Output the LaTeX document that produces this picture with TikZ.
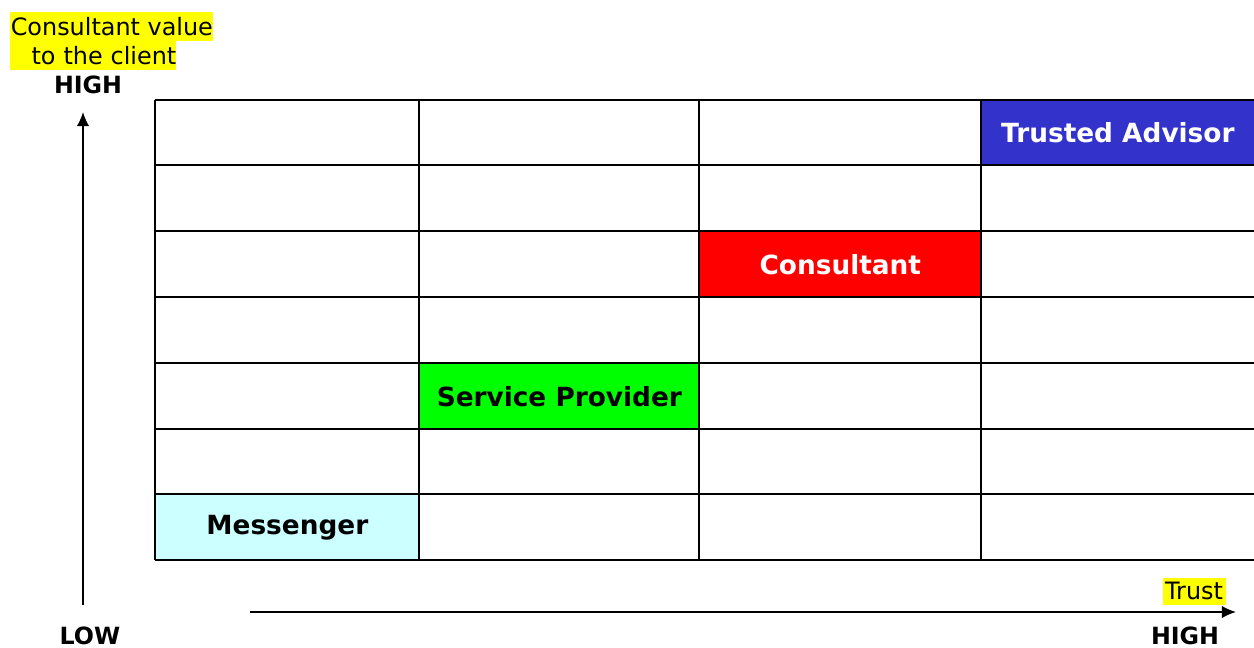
\documentclass[tikz,border=0pt]{standalone}
\usepackage{fontspec}
\setmainfont{DejaVu Sans}
\usepackage{tikz}
\usetikzlibrary{positioning, arrows.meta}

\definecolor{advisorblue}{HTML}{3333CC}
\definecolor{hilite}{HTML}{FFFF00}
\definecolor{msgcyan}{HTML}{CCFFFF}

\begin{document}
\begin{tikzpicture}[x=0.02cm, y=-0.02cm,
	cell/.style={rectangle, draw=none, inner sep=0pt, anchor=north west, font=\bfseries\fontsize{15}{17}\selectfont},
	axislabel/.style={inner sep=0pt, font=\bfseries\fontsize{13.5}{15}\selectfont},
	marker/.style={fill=hilite, inner sep=0pt, minimum height=29*0.02cm, font=\fontsize{13.6}{16}\selectfont},
	axis/.style={-{Latex[length=8pt, width=7pt]}, line width=0.8pt}]

	\useasboundingbox (0,0) rectangle (1254,648);

	\def \xa {155}
	\def \xb {1254}
	\def \ya {100}
	\def \yb {560}

	% highlighted cells
	\node[cell, fill=advisorblue, text=white, minimum width=273*0.02cm, minimum height=65*0.02cm]
		(advisor) at (981,100) {Trusted Advisor};
	\node[cell, fill=red, text=white, minimum width=282*0.02cm, minimum height=66*0.02cm]
		(consultant) at (699,231) {Consultant};
	\node[cell, fill=green, text=black, minimum width=280*0.02cm, minimum height=66*0.02cm]
		(provider) at (419,363) {Service Provider};
	\node[cell, fill=msgcyan, text=black, minimum width=264*0.02cm, minimum height=66*0.02cm]
		(messenger) at (155,494) {Messenger};

	% grid
	\foreach \y in {100,165,231,297,363,429,494,560}
		\draw[line width=1pt] (\xa,\y) -- (\xb,\y);
	\foreach \x in {155,419,699,981}
		\draw[line width=1pt] (\x,\ya) -- (\x,\yb);

	% vertical axis
	\coordinate (vlow) at (83,605);
	\coordinate (vhigh) at (83,112);
	\draw[axis] (vlow) -- (vhigh);
	\node[axislabel] (vtop) at (88,85) {HIGH};
	\node[axislabel] (vbottom) at (90,636) {LOW};
	\node[marker, minimum width=203*0.02cm, anchor=north west] (valueline) at (10,12) {Consultant value};
	\node[marker, text width=166*0.02cm, align=right, anchor=north west] (clientline) at (10,41) {to the client};

	% horizontal axis
	\coordinate (hlow) at (250,612);
	\coordinate (hhigh) at (1236,612);
	\draw[axis] (hlow) -- (hhigh);
	\node[axislabel] (hright) at (1185,636) {HIGH};
	\node[marker, minimum width=63*0.02cm, minimum height=27*0.02cm] (trustlabel) at (1194,591) {Trust};

\end{tikzpicture}
\end{document}
